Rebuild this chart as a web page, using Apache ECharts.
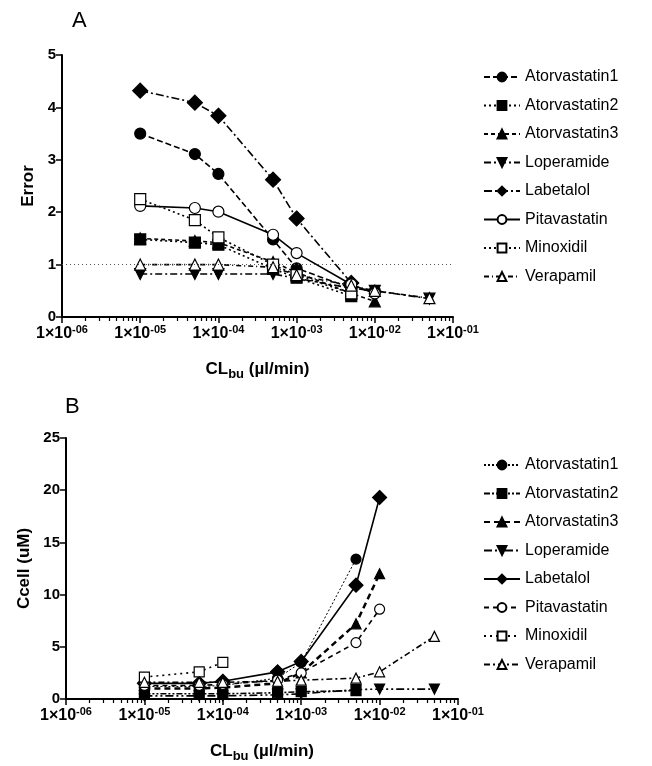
<!DOCTYPE html>
<html>
<head>
<meta charset="utf-8">
<script src="https://cdn.jsdelivr.net/npm/echarts@6/dist/echarts.min.js"></script>
<style>
  html, body { margin: 0; background: #fff; }
  #chart { width: 652px; height: 766px; }
</style>
</head>
<body>
<div id="chart"></div>
<script>
const drugNames = ["Atorvastatin1", "Atorvastatin2", "Atorvastatin3", "Loperamide",
  "Labetalol", "Pitavastatin", "Minoxidil", "Verapamil"];
const clbu = [1e-5, 5e-5, 1e-4, 5e-4, 1e-3, 5e-3, 1e-2, 5e-2];

// panel A - Error
const errAtorvastatin1 = [3.50, 3.11, 2.73, 1.48, 0.93, 0.55, 0.50, null];
const errAtorvastatin2 = [1.48, 1.42, 1.38, 0.92, 0.75, 0.40, null, null];
const errAtorvastatin3 = [1.50, 1.45, 1.42, 1.05, 0.85, 0.45, 0.30, null];
const errLoperamide = [0.82, 0.82, 0.82, 0.82, null, 0.55, 0.50, 0.35];
const errLabetalol = [4.32, 4.09, 3.84, 2.62, 1.88, 0.65, null, null];
const errPitavastatin = [2.12, 2.08, 2.01, 1.57, 1.22, 0.62, 0.45, null];
const errMinoxidil = [2.25, 1.85, 1.52, 1.00, 0.80, 0.45, null, null];
const errVerapamil = [1.00, 1.00, 1.00, 0.95, 0.80, 0.60, 0.50, 0.36];

// panel B - Ccell (uM)
const ccAtorvastatin1 = [1.2, 1.2, 1.3, 2.0, 3.5, 13.4, null, null];
const ccAtorvastatin2 = [0.5, 0.5, 0.5, 0.6, 0.7, 0.8, null, null];
const ccAtorvastatin3 = [1.0, 1.0, 1.1, 1.5, 2.5, 7.2, 12.0, null];
const ccLoperamide = [0.3, 0.3, 0.3, 0.4, 0.5, 0.9, 0.95, 0.95];
const ccLabetalol = [1.5, 1.5, 1.7, 2.6, 3.6, 10.9, 19.3, null];
const ccPitavastatin = [1.3, 1.3, 1.4, 1.8, 2.5, 5.4, 8.6, null];
const ccMinoxidil = [2.1, 2.6, 3.5, null, null, null, null, null];
const ccVerapamil = [1.6, 1.6, 1.6, 1.7, 1.8, 2.0, 2.6, 6.0];

const errorData = [errAtorvastatin1, errAtorvastatin2, errAtorvastatin3, errLoperamide,
  errLabetalol, errPitavastatin, errMinoxidil, errVerapamil];
const ccellData = [ccAtorvastatin1, ccAtorvastatin2, ccAtorvastatin3, ccLoperamide,
  ccLabetalol, ccPitavastatin, ccMinoxidil, ccVerapamil];

const errorTicks = [0, 1, 2, 3, 4, 5];
const ccellTicks = [0, 5, 10, 15, 20, 25];

// minor tick positions (log10 of 2..9 x each decade)
const minorTicks = [];
for (let e = -6; e <= -2; e++) {
  for (let m = 2; m <= 9; m++) minorTicks.push(e + Math.log10(m));
}

const FONT = "Liberation Sans";

// marker / dash per series
const styleA = [
  { symbol: "circle", fill: true, dash: [6, 3] },
  { symbol: "rect", fill: true, dash: [2, 3] },
  { symbol: "triangle", fill: true, dash: [4, 3] },
  { symbol: "triangle", rotate: 180, fill: true, dash: [7, 3, 2, 3] },
  { symbol: "diamond", fill: true, dash: [8, 3, 2, 3], size: 15 },
  { symbol: "circle", fill: false, dash: "solid" },
  { symbol: "rect", fill: false, dash: [2, 3] },
  { symbol: "triangle", fill: false, dash: [5, 3, 1, 3] }
];
const styleB = [
  { symbol: "circle", fill: true, dash: [2, 2], width: 1 },
  { symbol: "rect", fill: true, dash: [6, 2, 2, 2, 2, 2] },
  { symbol: "triangle", fill: true, dash: [6, 4], width: 2.5 },
  { symbol: "triangle", rotate: 180, fill: true, dash: [8, 3, 2, 3, 2, 3] },
  { symbol: "diamond", fill: true, dash: "solid", size: 14 },
  { symbol: "circle", fill: false, dash: [5, 4] },
  { symbol: "rect", fill: false, dash: [2, 4] },
  { symbol: "triangle", fill: false, dash: [6, 3, 2, 3] }
];

function expLabel(v) {
  const e = Math.round(Math.log10(v));
  const s = (e < 0 ? "-" : "") + String(Math.abs(e)).padStart(2, "0");
  return "1×10{sup|" + s + "}";
}

function makeSeries(name, values, st, idx, size) {
  const data = [];
  values.forEach((v, i) => { if (v !== null) data.push([clbu[i], v]); });
  return {
    name: name,
    type: "line",
    xAxisIndex: idx,
    yAxisIndex: idx,
    data: data,
    symbol: st.symbol,
    symbolRotate: st.rotate || 0,
    symbolSize: st.size || size,
    showAllSymbol: true,
    animation: false,
    lineStyle: { color: "#000", width: st.width || 1.6, type: st.dash },
    itemStyle: {
      color: st.fill ? "#000" : "#fff",
      borderColor: "#000",
      borderWidth: 1.2
    }
  };
}

function xAxisMain(gridIndex) {
  return {
    type: "log",
    logBase: 10,
    gridIndex: gridIndex,
    min: 1e-6,
    max: 1e-1,
    name: "CL{sub|bu} (µl/min)",
    nameLocation: "middle",
    nameGap: 41,
    nameTextStyle: {
      fontFamily: FONT, fontSize: 17, fontWeight: "bold", color: "#000",
      rich: { sub: { fontFamily: FONT, fontSize: 13, fontWeight: "bold", color: "#000", padding: [10, 0, 0, 0] } }
    },
    axisLine: { lineStyle: { color: "#000", width: 2 } },
    axisTick: { inside: false, length: 6, lineStyle: { color: "#000", width: 1.5 } },
    splitLine: { show: false },
    axisLabel: {
      margin: 7,
      fontFamily: FONT, fontSize: 16, fontWeight: "bold", color: "#000",
      formatter: expLabel,
      rich: { sup: { fontFamily: FONT, fontSize: 11, fontWeight: "bold", color: "#000", padding: [0, 0, 9, 0] } }
    }
  };
}

function xAxisMinor(gridIndex) {
  return {
    type: "value",
    gridIndex: gridIndex,
    min: -6,
    max: -1,
    position: "bottom",
    axisLine: { show: false },
    axisLabel: { show: false },
    splitLine: { show: false },
    axisTick: { show: true, length: 4, customValues: minorTicks, lineStyle: { color: "#000", width: 1.2 } }
  };
}

function yAxis(gridIndex, name, ticks, gap) {
  return {
    type: "value",
    gridIndex: gridIndex,
    min: ticks[0],
    max: ticks[ticks.length - 1],
    interval: ticks[1] - ticks[0],
    name: name,
    nameLocation: "middle",
    nameGap: gap,
    nameTextStyle: { fontFamily: FONT, fontSize: 17, fontWeight: "bold", color: "#000" },
    axisLine: { show: true, lineStyle: { color: "#000", width: 2 } },
    axisTick: { show: true, length: 6, lineStyle: { color: "#000", width: 1.5 } },
    splitLine: { show: false },
    axisLabel: { margin: 6, fontFamily: FONT, fontSize: 15, fontWeight: "bold", color: "#000" }
  };
}

function legend(top, data) {
  return {
    orient: "vertical",
    left: 478,
    top: top,
    itemWidth: 36,
    itemHeight: 11,
    itemGap: 12.5,
    data: data,
    formatter: n => n.replace(/^B:/, ""),
    textStyle: { fontFamily: FONT, fontSize: 16, color: "#000" }
  };
}

const seriesA = drugNames.map((n, i) => makeSeries(n, errorData[i], styleA[i], 0, 11));
const seriesB = drugNames.map((n, i) => makeSeries("B:" + n, ccellData[i], styleB[i], 1, 10));
seriesA[0].markLine = {
  silent: true,
  symbol: "none",
  label: { show: false },
  lineStyle: { color: "#555", width: 1, type: [1, 3] },
  data: [{ yAxis: 1 }]
};

const option = {
  backgroundColor: "#fff",
  animation: false,
  grid: [
    { left: 62, top: 55, width: 391, height: 262 },
    { left: 66, top: 438, width: 392, height: 261 }
  ],
  xAxis: [xAxisMain(0), xAxisMain(1), xAxisMinor(0), xAxisMinor(1)],
  yAxis: [yAxis(0, "Error", errorTicks, 23), yAxis(1, "Ccell (uM)", ccellTicks, 25)],
  legend: [legend(64, drugNames), legend(452, drugNames.map(n => "B:" + n))],
  graphic: [
    { type: "text", left: 72, top: 10, style: { text: "A", fontFamily: FONT, fontSize: 22, fill: "#000" } },
    { type: "text", left: 65, top: 396, style: { text: "B", fontFamily: FONT, fontSize: 22, fill: "#000" } }
  ],
  series: seriesA.concat(seriesB)
};

const chart = echarts.init(document.getElementById("chart"));
chart.setOption(option);
</script>
</body>
</html>
